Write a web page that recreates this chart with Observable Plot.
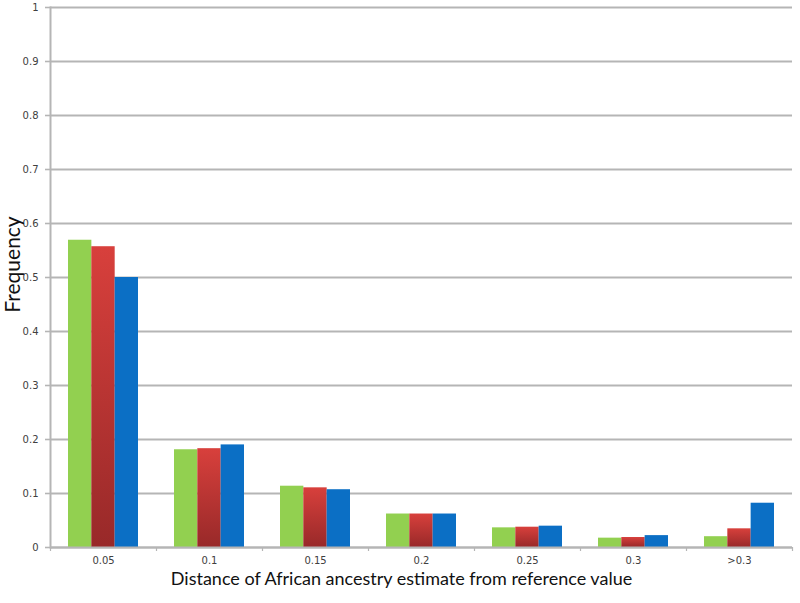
<!DOCTYPE html>
<html>
<head>
<meta charset="utf-8">
<script src="https://cdn.jsdelivr.net/npm/d3@7"></script>
<script src="https://cdn.jsdelivr.net/npm/@observablehq/plot@0.6"></script>
<style>
  html, body { margin: 0; padding: 0; background: #fff; }
</style>
</head>
<body>
<div id="chart"></div>
<script>
const categories = ["0.05", "0.1", "0.15", "0.2", "0.25", "0.3", ">0.3"];
const seriesNames = ["green", "red", "blue"];
const greenValues = [0.569, 0.181, 0.1135, 0.062, 0.0364, 0.0173, 0.020];
const redValues   = [0.557, 0.183, 0.1105, 0.062, 0.0376, 0.0185, 0.0346];
const blueValues  = [0.500, 0.190, 0.107, 0.062, 0.0395, 0.022, 0.082];
const yTicks = [0, 0.1, 0.2, 0.3, 0.4, 0.5, 0.6, 0.7, 0.8, 0.9, 1];
const xTitle = "Distance of African ancestry estimate from reference value";
const yTitle = "Frequency";

const rows = (vals) => categories.map((c, i) => ({category: c, value: vals[i]}));
const green = rows(greenValues), red = rows(redValues), blue = rows(blueValues);

const W = 800, H = 603;
const mL = 50, mR = 8, mT = 7, mB = 56;
const step = (W - mL - mR) / categories.length;
const bw = step * 0.66 / 3;
const grid = "#b5b5b5";

const defs = () => {
  const d = d3.create("svg:defs");
  const g = d.append("linearGradient").attr("id", "redGrad")
    .attr("x1", 0).attr("y1", 0).attr("x2", 0).attr("y2", 1);
  g.append("stop").attr("offset", "0%").attr("stop-color", "#d8403c");
  g.append("stop").attr("offset", "100%").attr("stop-color", "#982929");
  return d.node();
};

const chart = Plot.plot({
  width: W, height: H,
  marginLeft: mL, marginRight: mR, marginTop: mT, marginBottom: mB,
  style: {fontFamily: "DejaVu Sans, sans-serif", fontSize: "10px", color: "#404040", background: "#fff"},
  x: {domain: categories, paddingInner: 0.34, paddingOuter: 0.17},
  y: {domain: [0, 1]},
  marks: [
    defs,
    Plot.gridY(yTicks, {stroke: grid, strokeOpacity: 1, strokeWidth: 2}),
    Plot.barY(green, {x: "category", y: "value", fill: "#92d050", insetLeft: 0, insetRight: 2 * bw}),
    Plot.barY(red, {x: "category", y: "value", fill: "url(#redGrad)", insetLeft: bw, insetRight: bw}),
    Plot.barY(blue, {x: "category", y: "value", fill: "#0b6fc5", insetLeft: 2 * bw, insetRight: 0}),
    Plot.ruleY([0], {stroke: grid, strokeWidth: 2}),
    Plot.frame({anchor: "left", stroke: grid, strokeWidth: 2}),
    Plot.ruleX(categories, {x: d => d, dx: -step / 2, insetTop: H - mT - mB, insetBottom: -4, stroke: grid, strokeWidth: 1.2}),
    Plot.ruleX(categories.slice(-1), {x: d => d, dx: step / 2, insetTop: H - mT - mB, insetBottom: -4, stroke: grid, strokeWidth: 1.2}),
    Plot.axisY({ticks: yTicks, tickFormat: d => String(d), tickSize: 5, tickPadding: 7, stroke: grid, strokeWidth: 1.6, label: null, fill: "#404040"}),
    Plot.axisX({tickSize: 0, tickPadding: 9, label: null, fill: "#404040"}),
    Plot.text([xTitle], {frameAnchor: "bottom", dy: 37, dx: -20, fontSize: 18, fontFamily: "Lato, Open Sans, sans-serif", fill: "#111"}),
    Plot.text([yTitle], {frameAnchor: "left", textAnchor: "middle", rotate: -90, dx: -37, dy: -13, fontSize: 21, fontFamily: "Lato, Open Sans, sans-serif", fill: "#111"})
  ]
});
document.getElementById("chart").appendChild(chart);
</script>
</body>
</html>
